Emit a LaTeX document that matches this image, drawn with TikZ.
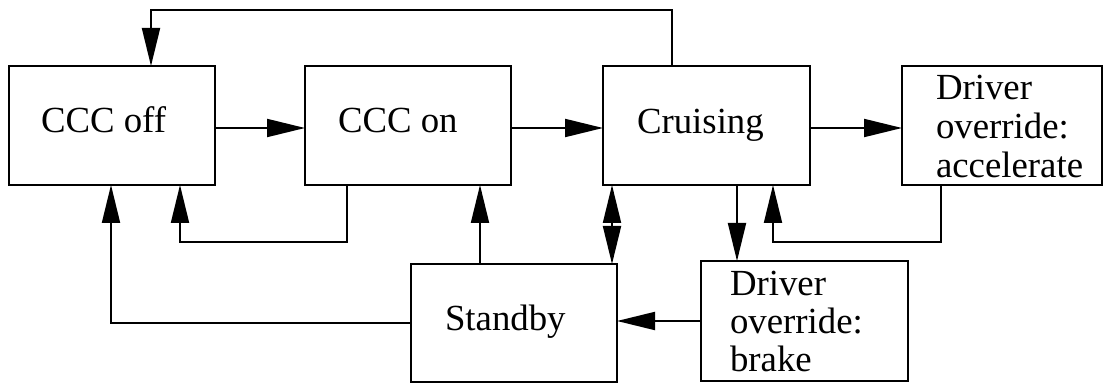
\documentclass[tikz,border=0pt]{standalone}
\usepackage{fontspec}
\setmainfont{Liberation Serif}
\usetikzlibrary{arrows.meta}
\begin{document}
\begin{tikzpicture}[x=1pt,y=-1pt,
  box/.style={draw,line width=2pt,rectangle,inner sep=0pt,outer sep=0pt,minimum height=119pt},
  lbl/.style={inner sep=0pt,outer sep=0pt,anchor=base west,font=\fontsize{36.8}{39}\selectfont},
  arr/.style={line width=2pt,-{Triangle[length=38pt,width=18pt]}},
  dbl/.style={line width=2pt,{Triangle[length=38pt,width=18pt]}-{Triangle[length=38pt,width=18pt]}},
  ln/.style={line width=2pt}]
\useasboundingbox (0,0) rectangle (1105,387);
% boxes
\node[box,minimum width=206pt] (coff) at (112,125.5) {};
\node[box,minimum width=206pt] (con) at (408,125.5) {};
\node[box,minimum width=207pt] (cru) at (706.5,125.5) {};
\node[box,minimum width=200pt] (acc) at (1002,125.5) {};
\node[box,minimum width=206pt,minimum height=118pt] (stb) at (514,323) {};
\node[box,minimum width=207pt,minimum height=120pt] (brk) at (804.5,321) {};
% labels
\node[lbl] (toff) at (41,133) {CCC off};
\node[lbl] (ton) at (338,133) {CCC on};
\node[lbl] (tcru) at (637,134) {Cruising};
\node[lbl] (tstb) at (445,330) {Standby};
\node[lbl] (tacc) at (936,100) {\vtop{\baselineskip=39pt\hbox{Driver}\hbox{override:}\hbox{accelerate}}};
\node[lbl] (tbrk) at (730,295) {\vtop{\baselineskip=38pt\hbox{Driver}\hbox{override:}\hbox{brake}}};
% connectors
\draw[arr] ([xshift=69pt]cru.north west) -- ++(0,-56) -| ([xshift=142pt]coff.north west);
\draw[arr] ([yshift=-2.5pt]coff.east) -- ([yshift=-2.5pt]con.west);
\draw[arr] ([yshift=-2.5pt]con.east) -- ([yshift=-2.5pt]cru.west);
\draw[arr] ([yshift=-2.5pt]cru.east) -- ([yshift=-2.5pt]acc.west);
\draw[arr] ([xshift=42pt]con.south west) -- ++(0,57) -| ([xshift=171pt]coff.south west);
\draw[arr] (stb.west) -| ([xshift=102pt]coff.south west);
\draw[arr] ([xshift=69pt]stb.north west) -- ([xshift=175pt]con.south west);
\draw[dbl] ([xshift=9pt]cru.south west) -- ([xshift=-5pt]stb.north east);
\draw[arr] ([xshift=134pt]cru.south west) -- ([xshift=36pt]brk.north west);
\draw[arr] ([xshift=39pt]acc.south west) -- ++(0,57) -| ([xshift=170pt]cru.south west);
\draw[arr] (brk.west) -- (brk.west -| stb.east);
\end{tikzpicture}
\end{document}
